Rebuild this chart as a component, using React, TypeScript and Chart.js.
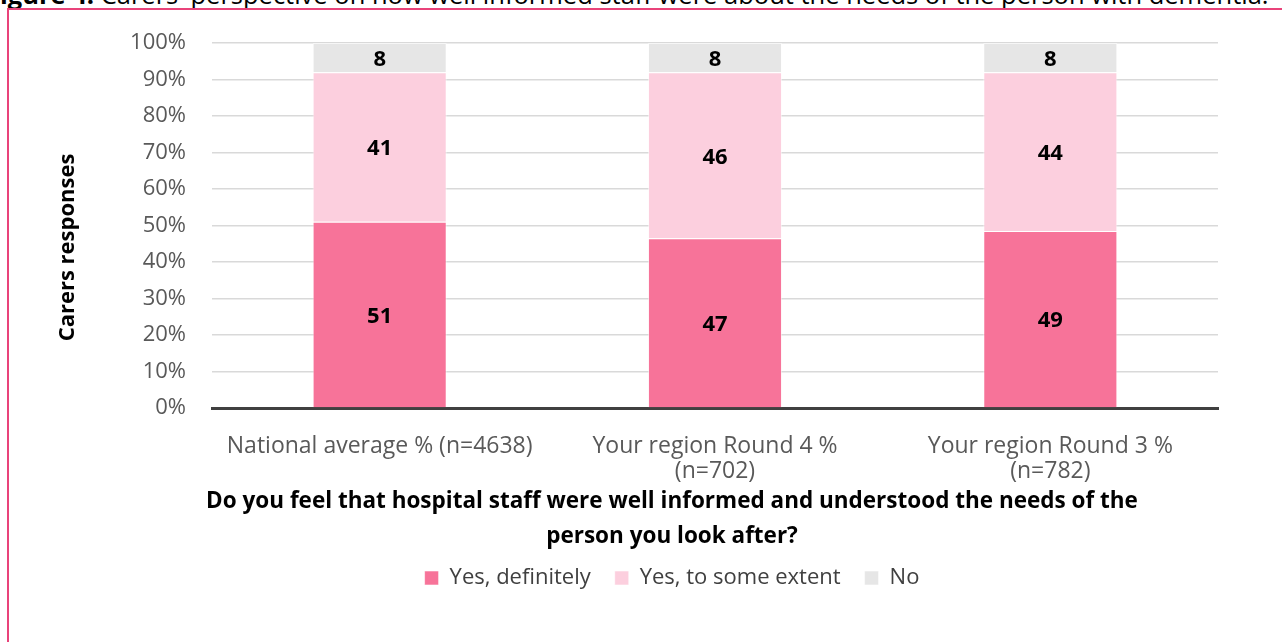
import { useEffect, useRef } from 'react';
import { Chart, registerables } from 'chart.js';

Chart.register(...registerables);

const categories: string[][] = [
  ['National average % (n=4638)'],
  ['Your region Round 4 %', '(n=702)'],
  ['Your region Round 3 %', '(n=782)'],
];
const seriesNames = ['Yes, definitely', 'Yes, to some extent', 'No'];
const yesDefinitely = [51, 46.5, 48.5];
const yesSomeExtent = [41, 45.5, 43.5];
const noValues = [8, 8, 8];
const yTickValues = [0, 10, 20, 30, 40, 50, 60, 70, 80, 90, 100];
const questionLines = [
  'Do you feel that hospital staff were well informed and understood the needs of the',
  'person you look after?',
];
const yAxisTitle = 'Carers responses';
const figureTitleBold = 'Figure 4:';
const figureTitleRest = " Carers' perspective on how well informed staff were about the needs of the person with dementia.";

const seriesColors = ['#F77399', '#FCCFDE', '#E6E6E6'];
const FONT = "'Open Sans', 'Noto Sans', sans-serif";

const valueLabels = {
  id: 'valueLabels',
  afterDatasetsDraw(chart: any) {
    const ctx = chart.ctx;
    ctx.save();
    ctx.font = `bold 22px ${FONT}`;
    ctx.fillStyle = '#000000';
    ctx.textAlign = 'center';
    ctx.textBaseline = 'middle';
    chart.data.datasets.forEach((ds: any, i: number) => {
      const meta = chart.getDatasetMeta(i);
      meta.data.forEach((bar: any, j: number) => {
        const { x, y, base } = bar.getProps(['x', 'y', 'base'], true);
        ctx.fillText(String(Math.round(ds.data[j])), x, (y + base) / 2 + 2);
      });
    });
    ctx.restore();
  },
};

const yTitlePlugin = {
  id: 'yTitlePlugin',
  afterDraw(chart: any) {
    const ctx = chart.ctx;
    const area = chart.chartArea;
    ctx.save();
    ctx.translate(68, (area.top + area.bottom) / 2 + 22);
    ctx.rotate(-Math.PI / 2);
    ctx.font = `bold 22px ${FONT}`;
    ctx.fillStyle = '#000000';
    ctx.textAlign = 'center';
    ctx.textBaseline = 'middle';
    ctx.fillText(yAxisTitle, 0, 0);
    ctx.restore();
  },
};

export default function App() {
  const ref = useRef<HTMLCanvasElement>(null);

  useEffect(() => {
    if (!ref.current) return;
    const seriesData = [yesDefinitely, yesSomeExtent, noValues];
    const chart = new Chart(ref.current, {
      type: 'bar',
      data: {
        labels: categories,
        datasets: seriesNames.map((name, i) => ({
          label: name,
          data: seriesData[i],
          backgroundColor: seriesColors[i],
          borderColor: 'rgba(255,255,255,0.55)',
          borderWidth: 1,
          categoryPercentage: 0.8,
          barPercentage: 0.5,
        })),
      },
      options: {
        responsive: false,
        animation: false,
        layout: { padding: { left: 62, right: 0, top: 43, bottom: 43 } },
        scales: {
          x: {
            stacked: true,
            grid: { display: false, drawTicks: false },
            border: { display: true, color: '#404040', width: 3 },
            ticks: {
              padding: 26,
              maxRotation: 0,
              autoSkip: false,
              color: '#595959',
              font: { family: FONT, size: 23, lineHeight: 1.1 },
            },
            afterFit: (scale: any) => {
              scale.height = 75;
            },
          },
          y: {
            stacked: true,
            min: 0,
            max: 100,
            afterBuildTicks: (scale: any) => {
              scale.ticks = yTickValues.map((v) => ({ value: v }));
            },
            grid: { color: '#D9D9D9', lineWidth: 1.5, drawTicks: false },
            border: { display: false },
            ticks: {
              padding: 26,
              color: '#595959',
              font: { family: FONT, size: 22 },
              callback: (v: any) => `${v}%`,
            },
            afterFit: (scale: any) => {
              scale.width = 212 - 62;
            },
          },
          yRight: {
            type: 'linear',
            position: 'right',
            display: true,
            grid: { display: false, drawTicks: false },
            border: { display: false },
            ticks: { display: false },
            afterFit: (scale: any) => {
              scale.width = 64;
            },
          },
        },
        plugins: {
          tooltip: { enabled: false },
          title: {
            display: true,
            position: 'bottom',
            weight: 500,
            text: questionLines,
            color: '#000000',
            font: { family: FONT, size: 22.5, weight: 'bold', lineHeight: '35px' },
            padding: { top: 1, bottom: -11 },
          },
          legend: {
            position: 'bottom',
            labels: {
              boxWidth: 14,
              boxHeight: 14,
              padding: 24,
              color: '#404040',
              font: { family: FONT, size: 22 },
            },
          },
        },
      } as any,
      plugins: [valueLabels, yTitlePlugin],
    });
    return () => chart.destroy();
  }, []);

  return (
    <div
      style={{
        position: 'fixed',
        left: 0,
        top: 0,
        width: 1282,
        height: 642,
        overflow: 'hidden',
        background: '#ffffff',
      }}
    >
      <div
        style={{
          position: 'absolute',
          left: -14,
          top: -19,
          whiteSpace: 'nowrap',
          fontFamily: FONT,
          fontSize: 25.5,
          lineHeight: '26px',
          color: '#000000',
        }}
      >
        <b>{figureTitleBold}</b>
        {figureTitleRest}
      </div>
      <div
        style={{
          position: 'absolute',
          left: 7,
          top: 8,
          width: 1400,
          height: 800,
          border: '2px solid #E9437A',
          boxSizing: 'border-box',
        }}
      />
      <canvas
        ref={ref}
        width={1282}
        height={642}
        style={{ position: 'absolute', left: 0, top: 0 }}
      />
    </div>
  );
}
